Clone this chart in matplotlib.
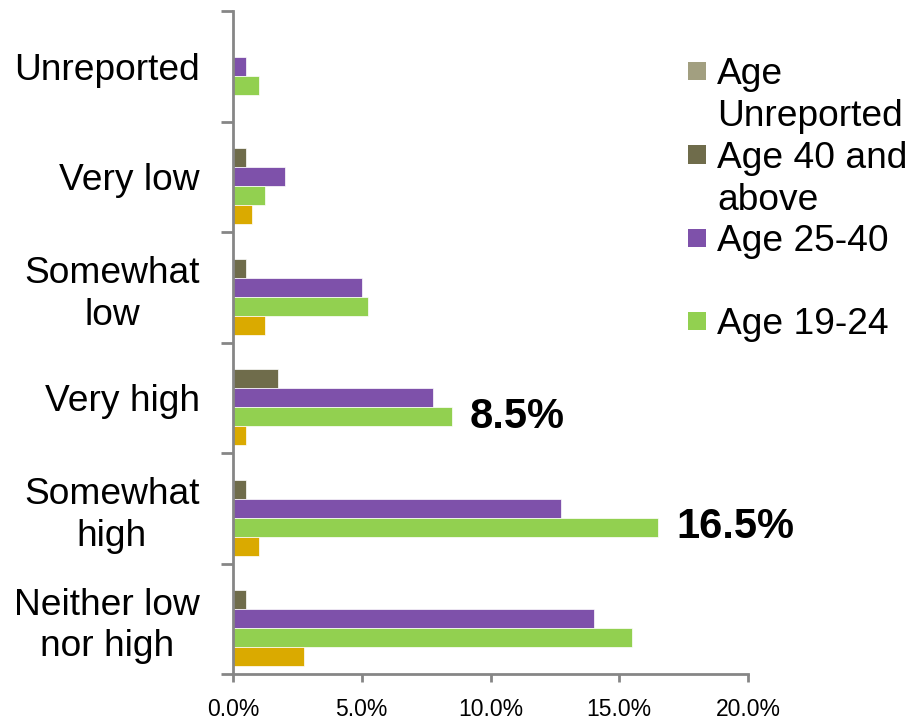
import numpy as np
import matplotlib
matplotlib.use('Agg')
import matplotlib.pyplot as plt
from matplotlib.patches import Rectangle

plt.rcParams['font.family'] = ['Liberation Sans', 'DejaVu Sans']

# ---------------------------------------------------------------------------
# Data (share of respondents, %), categories listed bottom to top
# ---------------------------------------------------------------------------

categories = ['Neither low\nnor high', 'Somewhat\nhigh', 'Very high',
              'Somewhat\nlow', 'Very low', 'Unreported']

age_unreported = [0.0, 0.0, 0.0, 0.0, 0.0, 0.0]
age_40_above   = [0.5, 0.5, 1.75, 0.5, 0.5, 0.0]
age_25_40      = [14.0, 12.75, 7.75, 5.0, 2.0, 0.5]
age_19_24      = [15.5, 16.5, 8.5, 5.25, 1.25, 1.0]
age_under_19   = [2.75, 1.0, 0.5, 1.25, 0.75, 0.0]

series = [
    ('Age Unreported',   age_unreported, '#A29F80'),
    ('Age 40 and above', age_40_above,   '#6F6C4B'),
    ('Age 25-40',        age_25_40,      '#7E51AA'),
    ('Age 19-24',        age_19_24,      '#92D050'),
    ('Age under 19',     age_under_19,   '#DAAA00'),
]

legend_labels = [['Age', 'Unreported'], ['Age 40 and', 'above'],
                 ['Age 25-40'], ['Age 19-24']]

# ---------------------------------------------------------------------------
# Figure
# ---------------------------------------------------------------------------

W, H = 909, 723
fig = plt.figure(figsize=(W / 100, H / 100), dpi=100)
ax = fig.add_axes([233 / W, 49 / H, (748 - 233) / W, (674 - 11) / H])

axis_grey = '#868686'
y = np.arange(len(categories))
h = 0.172

for i, (name, vals, color) in enumerate(series):
    offset = (2 - i) * h
    ax.barh(y + offset, vals, height=h, color=color, edgecolor='white',
            linewidth=0.5, label=name)

# value labels on the largest green bars
for idx in (1, 2):
    v = age_19_24[idx]
    ax.annotate(f'{v:.1f}%', xy=(v, y[idx] - h), xytext=(13, 0),
                textcoords='offset points', ha='left', va='center',
                fontsize=30, fontweight='bold')

ax.set_xlim(0, 20)
ax.set_ylim(-0.5, len(categories) - 0.5)

ax.set_xticks([0, 5, 10, 15, 20])
ax.set_xticklabels(['0.0%', '5.0%', '10.0%', '15.0%', '20.0%'], fontsize=16.5)
ax.set_yticks(y)
ax.set_yticklabels(categories, fontsize=26.7, ha='right', multialignment='center',
                   linespacing=1.25)
ax.set_yticks(np.arange(-0.5, len(categories)), minor=True)

ax.tick_params(axis='y', which='major', length=0, pad=24)
ax.tick_params(axis='y', which='minor', length=9, width=2, color=axis_grey,
               direction='out')
ax.tick_params(axis='x', which='major', length=6, width=2, color=axis_grey,
               direction='out', pad=11)

for side in ('top', 'right'):
    ax.spines[side].set_visible(False)
for side in ('left', 'bottom'):
    ax.spines[side].set_color(axis_grey)
    ax.spines[side].set_linewidth(2)

# legend drawn as squares with text beside them, one text per line
for k, (lines, (_, _, color)) in enumerate(zip(legend_labels, series[:4])):
    cy = 71 + k * 83.5
    fig.patches.append(Rectangle((688 / W, 1 - (cy + 9) / H), 18 / W, 18 / H,
                                 transform=fig.transFigure, facecolor=color,
                                 edgecolor='none'))
    for j, line in enumerate(lines):
        fig.text(717 / W, 1 - (cy + 13 + 42 * j) / H, line, fontsize=26.7,
                 ha='left', va='baseline')

fig.savefig('out.png', dpi=100)
